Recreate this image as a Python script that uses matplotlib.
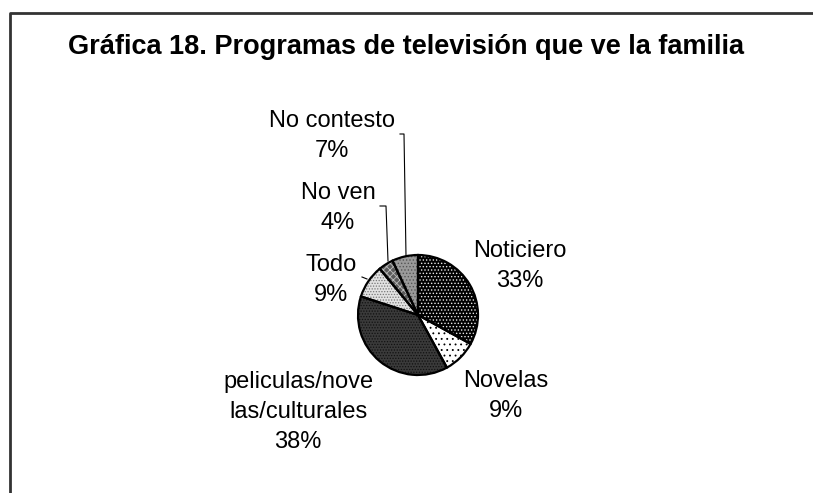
import matplotlib
matplotlib.use("Agg")
import matplotlib.pyplot as plt

plt.rcParams['font.family'] = ['Liberation Sans', 'DejaVu Sans']
plt.rcParams['hatch.linewidth'] = 0.6

# Programas de television - porcentajes
categorias = ['Noticiero', 'Novelas', 'peliculas/nove\nlas/culturales', 'Todo', 'No ven', 'No contesto']
porcentajes = [33, 9, 38, 9, 4, 7]

W, H = 813, 493
fig = plt.figure(figsize=(W / 100, H / 100), dpi=100)
ax = fig.add_axes([0, 0, 1, 1])

def py(y):
    # pixel row measured from the top -> data y
    return H - y

# fills and textures for each slice
caras = ['#000000', '#ffffff', '#3a3a3a', '#e2e2e2', '#5a5a5a', '#9a9a9a']
tramas = ['.....', '...', '......', '......', 'xxxxx', '.....']
color_trama = ['#e8e8e8', '#000000', '#111111', '#777777', '#bbbbbb', '#555555']

cx, cy, r = 418, py(315), 60
cuñas, _ = ax.pie(porcentajes, startangle=90, counterclock=False,
                  center=(cx, cy), radius=r, frame=True)
for w, fc, h, hc in zip(cuñas, caras, tramas, color_trama):
    w.set_facecolor(fc)
    w.set_hatch(h)
    w.set_edgecolor(hc)
    w.set_linewidth(0)

ax.pie(porcentajes, startangle=90, counterclock=False,
       center=(cx, cy), radius=r, frame=True,
       wedgeprops=dict(fill=False, edgecolor='black', linewidth=1.6))
ax.set_xlim(0, W)
ax.set_ylim(0, H)
ax.set_aspect('auto')
ax.axis('off')

# frame (only left and top edges fall inside the image)
ax.plot([10, 10, W + 5], [py(H + 5), py(13), py(13)], color='#333333', lw=2,
        solid_capstyle='butt')

ax.text(406, py(47), 'Gráfica 18. Programas de televisión que ve la familia',
        ha='center', va='center', fontsize=19.5, fontweight='bold')

# labels: x centre and baseline of the first line, in pixels
pos_etiquetas = [(520, 257), (506, 387), (298, 388), (331, 271), (338, 199), (332, 127)]
salto = 30
for nombre, p, (x, y) in zip(categorias, porcentajes, pos_etiquetas):
    lineas_txt = nombre.split('\n') + [f'{p}%']
    for i, t in enumerate(lineas_txt):
        ax.text(x, py(y + i * salto), t, ha='center', va='baseline', fontsize=17)

# leader lines
lineas = [
    [(400, 134), (404, 134), (406, 256)],
    [(380, 206), (386, 206), (388, 261)],
    [(362, 277), (367, 279)],
]
for pts in lineas:
    ax.plot([p[0] for p in pts], [py(p[1]) for p in pts], color='black', lw=0.8)

fig.savefig('out.png', dpi=100)
